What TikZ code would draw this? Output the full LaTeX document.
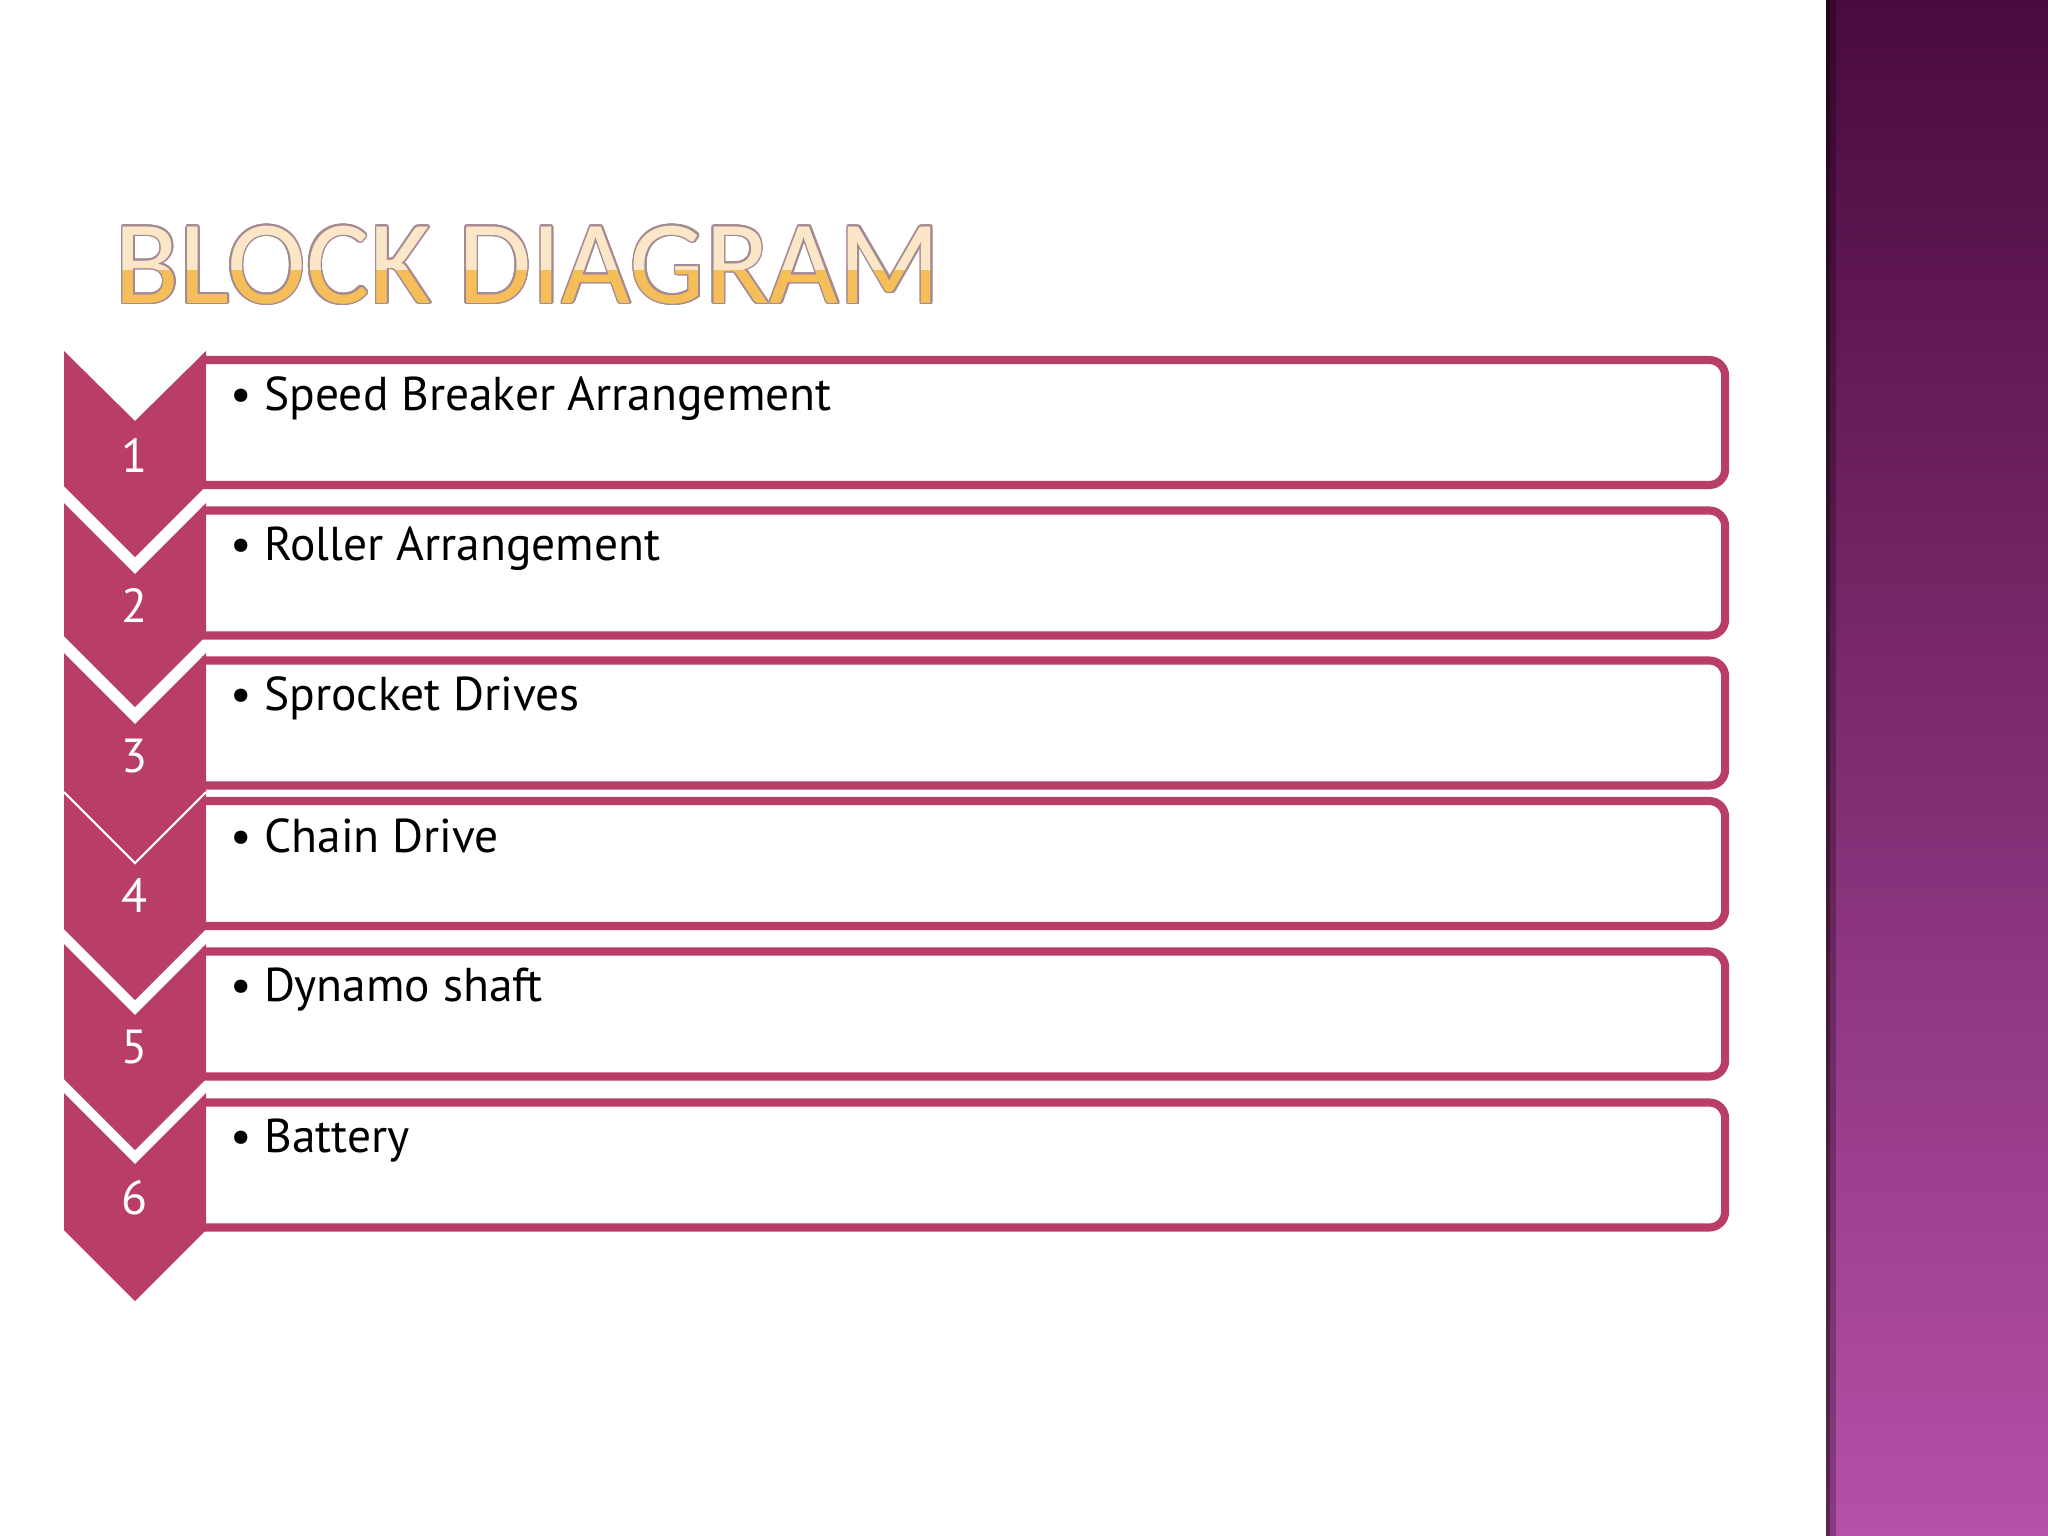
\documentclass[tikz,border=0pt]{standalone}
\usepackage{fontspec}
\setmainfont{PT Sans}
\newfontfamily\titlefont{Carlito}
\usepackage{contour}
\contourlength{0.45pt}
\usepackage{tikz}

\definecolor{chevpink}{HTML}{B83D67}
\definecolor{titletop}{HTML}{FCE6C8}
\definecolor{titlebot}{HTML}{F6BE58}
\definecolor{titleedge}{HTML}{A48A92}
\definecolor{paneltop}{HTML}{4A0A3D}
\definecolor{panelmid}{HTML}{7B2E6F}
\definecolor{panelbot}{HTML}{B650A8}

\begin{document}
\begin{tikzpicture}[x=0.01cm,y=-0.01cm,
    itembox/.style={minimum width=15.21cm,minimum height=1.235cm,inner sep=0pt},
    boxedge/.style={draw=chevpink,line width=2.3pt,rounded corners=4.5pt},
    chevron/.style={fill=chevpink},
    num/.style={text=white,font=\fontsize{13.6}{15}\selectfont,anchor=base,inner sep=0pt},
    item/.style={font=\fontsize{13.5}{16}\selectfont,anchor=base west,inner sep=0pt},
    title/.style={font=\titlefont\fontsize{33.9}{36}\selectfont,anchor=base west,inner sep=0pt}]
   \useasboundingbox (0,0) rectangle (2048,1536);

   % side panel
   \shade[top color=paneltop,middle color=panelmid,bottom color=panelbot] (1826,0) rectangle (2048,1536);
   \fill[black,opacity=0.25] (1826,0) rectangle (1836,1536);
   \fill[black,opacity=0.35] (1826,0) rectangle (1830,1536);

   % title
   \begin{scope}
     \clip (100,200) rectangle (960,270);
     \node[title,text=titletop] (head) at (114,303) {\contour{titleedge}{BLOCK DIAGRAM}};
   \end{scope}
   \begin{scope}
     \clip (100,270) rectangle (960,330);
     \node[title,text=titlebot] (head2) at (114,303) {\contour{titleedge}{BLOCK DIAGRAM}};
   \end{scope}

   % boxes
   \node[itembox] (b_1) at (963.5,422.5) {};
   \node[itembox] (b_2) at (963.5,573) {};
   \node[itembox] (b_3) at (963.5,723) {};
   \node[itembox] (b_4) at (963.5,863.5) {};
   \node[itembox] (b_5) at (963.5,1014) {};
   \node[itembox] (b_6) at (963.5,1165) {};
   \draw[boxedge] (b_1.north west) -- (b_1.north east) -- (b_1.south east) -- (b_1.south west);
   \draw[boxedge] (b_2.north west) -- (b_2.north east) -- (b_2.south east) -- (b_2.south west);
   \draw[boxedge] (b_3.north west) -- (b_3.north east) -- (b_3.south east) -- (b_3.south west);
   \draw[boxedge] (b_4.north west) -- (b_4.north east) -- (b_4.south east) -- (b_4.south west);
   \draw[boxedge] (b_5.north west) -- (b_5.north east) -- (b_5.south east) -- (b_5.south west);
   \draw[boxedge] (b_6.north west) -- (b_6.north east) -- (b_6.south east) -- (b_6.south west);

   % chevrons
   \fill[chevron] (64,351) -- (135,421) -- (206,351) -- (206,486) -- (135,557) -- (64,486) -- cycle;
   \fill[chevron] (64,503) -- (135,574) -- (206,503) -- (206,636) -- (135,707) -- (64,636) -- cycle;
   \fill[chevron] (64,653) -- (135,724) -- (206,653) -- (206,792) -- (135,863) -- (64,792) -- cycle;
   \fill[chevron] (64,792) -- (135,863) -- (206,792) -- (206,929) -- (135,1000) -- (64,929) -- cycle;
   \fill[chevron] (64,944) -- (135,1015) -- (206,944) -- (206,1079) -- (135,1150) -- (64,1079) -- cycle;
   \fill[chevron] (64,1093) -- (135,1164) -- (206,1093) -- (206,1230) -- (135,1301) -- (64,1230) -- cycle;
   \draw[white,line width=0.6pt] (64,792) -- (135,863) -- (206,792);

   % numbers
   \node[num] (n_1) at (135,472) {1};
   \node[num] (n_2) at (135,622) {2};
   \node[num] (n_3) at (135,772) {3};
   \node[num] (n_4) at (135,912) {4};
   \node[num] (n_5) at (135,1063) {5};
   \node[num] (n_6) at (135,1214) {6};

   % items
   \node[item] (t_1) at (230,410) {\textbullet\hspace{3.5pt}Speed Breaker Arrangement};
   \node[item] (t_2) at (230,560) {\textbullet\hspace{3.5pt}Roller Arrangement};
   \node[item] (t_3) at (230,710) {\textbullet\hspace{3.5pt}Sprocket Drives};
   \node[item] (t_4) at (230,852) {\textbullet\hspace{3.5pt}Chain Drive};
   \node[item] (t_5) at (230,1001) {\textbullet\hspace{3.5pt}Dynamo shaft};
   \node[item] (t_6) at (230,1152) {\textbullet\hspace{3.5pt}Battery};
\end{tikzpicture}
\end{document}
